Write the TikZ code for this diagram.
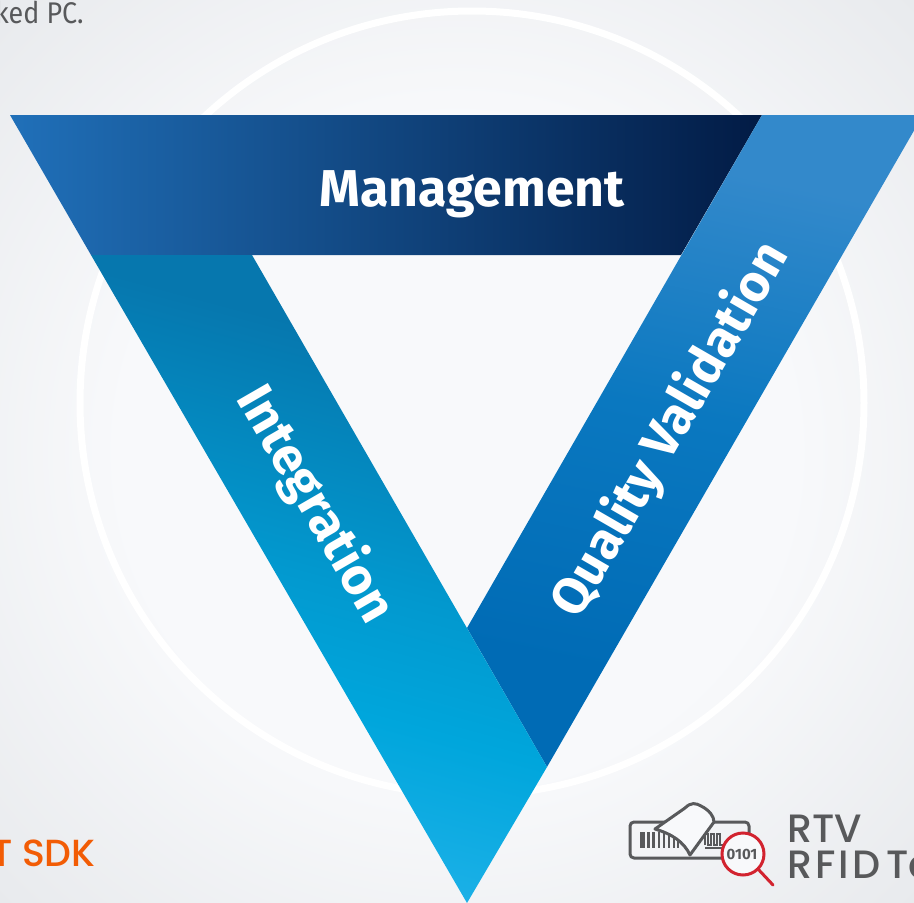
\documentclass[tikz,border=0pt]{standalone}
\usepackage{fontspec}
\setmainfont{Fira Sans}
\newfontfamily\logofont{Poppins Medium}
\usetikzlibrary{shadings}

\definecolor{bgmid}{HTML}{F8F9FB}
\definecolor{bgedge}{HTML}{E8EAED}
\definecolor{mgmtleft}{HTML}{2070B9}
\definecolor{mgmtmid}{HTML}{174F87}
\definecolor{mgmtright}{HTML}{021B45}
\definecolor{integtop}{HTML}{0677AE}
\definecolor{integmid}{HTML}{0299CF}
\definecolor{integlow}{HTML}{00A6DC}
\definecolor{integbot}{HTML}{20B2E9}
\definecolor{qualtop}{HTML}{3389CB}
\definecolor{qualmid}{HTML}{0A78C0}
\definecolor{qualbot}{HTML}{006BB5}
\definecolor{icongray}{HTML}{58595B}
\definecolor{iconred}{HTML}{D2232F}
\definecolor{sdkorange}{HTML}{F25C05}

\pgfdeclareradialshading{pagebg}{\pgfpoint{0cm}{0cm}}{
  color(0cm)=(bgmid); color(0.65cm)=(bgmid); color(1.25cm)=(bgedge); color(2cm)=(bgedge)}
\pgfdeclareverticalshading{integshade}{100bp}{
  color(0bp)=(integbot); color(25bp)=(integbot); color(40bp)=(integlow); color(50bp)=(integmid);
  color(70bp)=(integtop); color(100bp)=(integtop)}
\pgfdeclareverticalshading{qualshade}{100bp}{
  color(0bp)=(qualbot); color(30bp)=(qualbot); color(52bp)=(qualmid); color(72bp)=(qualtop); color(100bp)=(qualtop)}

\tikzset{
  bandlabel/.style={text=white, font=\fontsize{29.5pt}{29.5pt}\selectfont\bfseries, inner sep=0pt},
  logotext/.style={font=\fontsize{22.5pt}{22.5pt}\logofont\selectfont, inner sep=0pt, anchor=base west},
  iconline/.style={draw=icongray, line width=0.06cm, line join=round, line cap=round},
}

\begin{document}
\begin{tikzpicture}[x=0.02cm,y=-0.02cm]
\useasboundingbox (0,0) rectangle (914,903);
\clip (0,0) rectangle (914,903);

% Fondo
\shade[shading=pagebg] (0,0) rectangle (914,903);

% Anillo
\draw[white, line width=0.14cm] (472,403) circle (392);

% Banda superior
\shade[left color=mgmtleft, middle color=mgmtmid, right color=mgmtright]
  (10,115) -- (762,115) -- (681,255) -- (91,255) -- cycle;

% Banda derecha
\shade[shading=qualshade, shading angle=-12]
  (762,115) -- (923,115) -- (547,767) -- (467,628) -- cycle;

% Banda izquierda
\shade[shading=integshade, shading angle=-15]
  (91,255) -- (252,255) -- (547,767) -- (467,903) -- cycle;

% Etiquetas
\node[bandlabel] (management) at (472,194) {Management};
\node[bandlabel, rotate=-60] (integration) at (315,505) {Integration};
\node[bandlabel, rotate=60] (quality) at (671,430) {Quality Validation};

% Textos cortados
\node[anchor=base east, inner sep=0pt, xscale=0.9, text=icongray, font=\fontsize{17pt}{17pt}\selectfont] (pctext) at (84,23) {ked PC.};
\node[logotext, anchor=base east, text=sdkorange, font=\fontsize{21.5pt}{21.5pt}\logofont\selectfont] (sdktext) at (96,866) {T SDK};
\node[logotext, text=icongray] (rtvtext) at (787,842) {RTV};
\node[logotext, text=icongray] (rfidtext) at (787,878) {R\kern0.06cm F\kern0.06cm I\kern0.06cm D\kern0.12cm Ta};

% Etiqueta del icono
\draw[iconline, rounded corners=0.08cm] (630,822) rectangle (749,858);
\foreach \xa/\wa in {642.5/5,648.5/3.3,653.5/2.7,658.7/2.3,663.7/2.2,668.7/2,673.7/2,678/2}
  \draw[icongray, line width=\wa*0.02cm] (\xa,832) -- (\xa,848);
\draw[icongray, line width=0.025cm] (705,845) -- (705,834) -- (708,834) -- (708,845) -- (711,845) -- (711,834)
  -- (714,834) -- (714,845) -- (717,845) -- (717,834) -- (720,834) -- (720,845) -- (723,845);
\draw[icongray, line width=0.035cm] (705,848) -- (723,848);

% Esquina despegada
\filldraw[iconline, fill=bgmid] (655,829) -- (685,808) .. controls (691,802) and (696,803) .. (701,806)
  .. controls (709,810) and (714,816) .. (714,822) -- (690,855) .. controls (684,842) and (672,834) .. (655,829) -- cycle;

% Lupa
\filldraw[draw=iconred, fill=bgmid, line width=0.06cm] (743,854) circle (21);
\draw[draw=iconred, line width=0.06cm, line cap=round] (758,869) -- (773,885);
\node[inner sep=0pt, text=icongray, font=\fontsize{8.5pt}{8.5pt}\selectfont\bfseries] (bitstext) at (742,854) {0101};
\end{tikzpicture}
\end{document}
